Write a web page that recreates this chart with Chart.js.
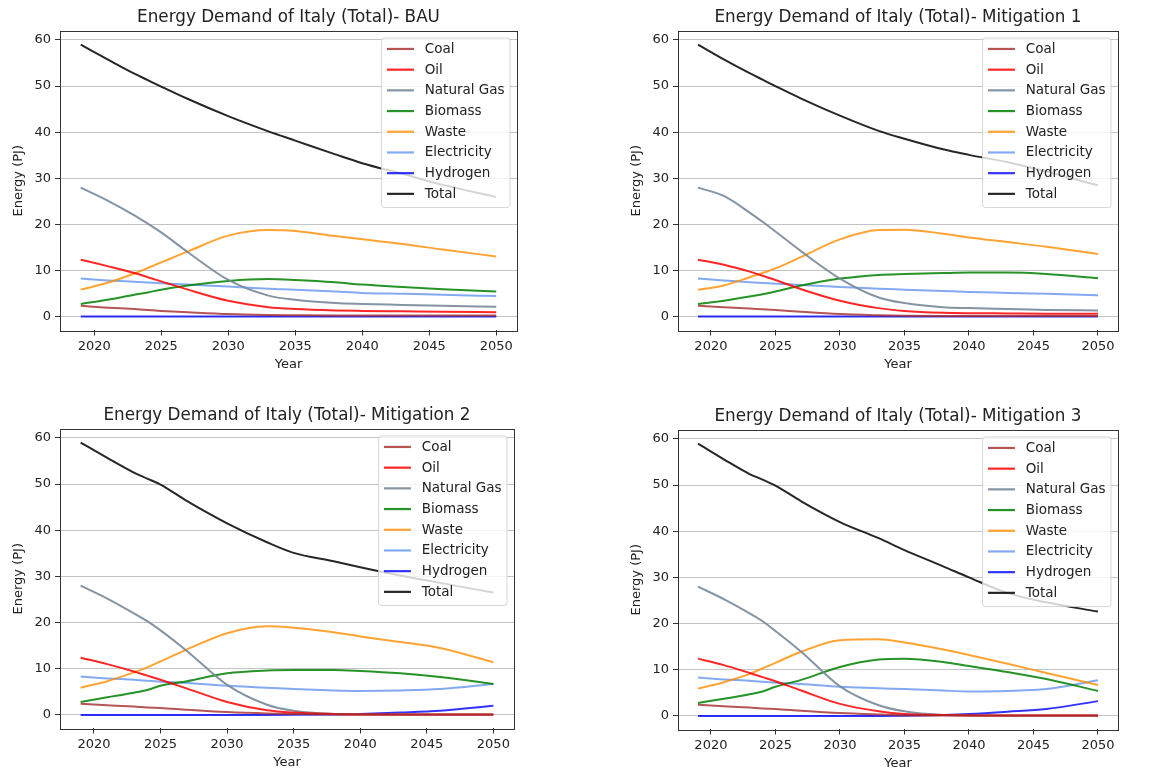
<!DOCTYPE html>
<html>
<head>
<meta charset="utf-8">
<script src="https://cdn.jsdelivr.net/npm/chart.js@4"></script>
<style>
  body { margin: 0; background: #fff; }
  #wrap { position: relative; width: 1150px; height: 774px; }
  canvas { position: absolute; }
</style>
</head>
<body>
<div id="wrap"></div>
<script>
// years the values were read at
const years = [2019, 2021, 2023, 2024, 2025, 2027, 2030, 2033, 2035, 2038, 2040, 2043, 2046, 2050];
const fuels = ["Coal", "Oil", "Natural Gas", "Biomass", "Waste", "Electricity", "Hydrogen", "Total"];
const scenarios = ["BAU", "Mitigation 1", "Mitigation 2", "Mitigation 3"];
const xTicks = [2020, 2025, 2030, 2035, 2040, 2045, 2050];
const yTicks = [0, 10, 20, 30, 40, 50, 60];

// BAU
const coalBAU   = [2.4, 2.0, 1.7, 1.5, 1.3, 1.0, 0.6, 0.4, 0.35, 0.3, 0.3, 0.3, 0.3, 0.3];
const oilBAU    = [12.4, 11.0, 9.5, 8.6, 7.7, 5.9, 3.5, 2.1, 1.7, 1.4, 1.3, 1.2, 1.1, 1.0];
const gasBAU    = [28, 25.2, 22.0, 20.2, 18.3, 14.0, 8.0, 4.6, 3.7, 3.0, 2.8, 2.6, 2.4, 2.2];
const bioBAU    = [2.8, 3.7, 4.8, 5.3, 5.9, 6.8, 7.8, 8.2, 8.0, 7.5, 7.0, 6.5, 6.0, 5.5];
const wasteBAU  = [5.9, 7.4, 9.4, 10.6, 11.8, 14.2, 17.6, 18.8, 18.6, 17.5, 16.8, 15.8, 14.6, 13.1];
const elecBAU   = [8.3, 7.9, 7.6, 7.45, 7.3, 7.0, 6.6, 6.1, 5.9, 5.5, 5.2, 5.0, 4.8, 4.5];
const h2BAU     = [0.1, 0.1, 0.1, 0.1, 0.1, 0.1, 0.1, 0.1, 0.1, 0.1, 0.1, 0.1, 0.1, 0.1];
const totalBAU  = [59, 55.8, 52.7, 51.3, 49.9, 47.2, 43.5, 40.2, 38.2, 35.2, 33.3, 31.0, 28.6, 26.0];

// Mitigation 1
const coalM1    = [2.4, 2.1, 1.8, 1.65, 1.5, 1.1, 0.6, 0.35, 0.25, 0.2, 0.2, 0.2, 0.2, 0.2];
const oilM1     = [12.4, 11.3, 9.8, 8.9, 8.0, 6.0, 3.5, 1.9, 1.3, 0.9, 0.8, 0.75, 0.7, 0.7];
const gasM1     = [28, 26.2, 22.6, 20.6, 18.5, 14.2, 8.3, 4.2, 3.0, 2.1, 1.9, 1.7, 1.5, 1.4];
const bioM1     = [2.8, 3.5, 4.4, 4.9, 5.5, 6.8, 8.3, 9.1, 9.3, 9.5, 9.6, 9.6, 9.3, 8.4];
const wasteM1   = [5.9, 6.8, 8.6, 9.5, 10.5, 13.0, 16.8, 18.8, 18.9, 18.0, 17.2, 16.2, 15.2, 13.6];
const elecM1    = [8.3, 7.9, 7.5, 7.35, 7.2, 6.9, 6.5, 6.1, 5.9, 5.6, 5.4, 5.2, 5.0, 4.7];
const h2M1      = [0.1, 0.1, 0.1, 0.1, 0.1, 0.1, 0.1, 0.1, 0.1, 0.1, 0.1, 0.1, 0.1, 0.1];
const totalM1   = [59, 55.8, 52.8, 51.4, 50.0, 47.3, 43.6, 40.3, 38.6, 36.3, 35.1, 33.5, 31.5, 28.5];

// Mitigation 2
const coalM2    = [2.4, 2.1, 1.8, 1.6, 1.5, 1.1, 0.6, 0.3, 0.2, 0.1, 0.1, 0.1, 0.1, 0.1];
const oilM2     = [12.4, 11.0, 9.4, 8.5, 7.6, 5.7, 2.8, 1.0, 0.5, 0.2, 0.1, 0.1, 0.1, 0.1];
const gasM2     = [28, 25.2, 22.0, 20.3, 18.3, 13.8, 6.5, 2.2, 0.9, 0.2, 0.1, 0.05, 0.05, 0.05];
const bioM2     = [2.8, 3.8, 4.8, 5.4, 6.3, 7.3, 9.0, 9.6, 9.7, 9.7, 9.5, 9.0, 8.2, 6.7];
const wasteM2   = [5.9, 7.3, 9.2, 10.3, 11.6, 14.2, 17.7, 19.2, 18.9, 17.9, 17.0, 15.8, 14.5, 11.4];
const elecM2    = [8.3, 7.9, 7.6, 7.4, 7.2, 6.9, 6.3, 5.9, 5.6, 5.3, 5.2, 5.3, 5.6, 6.7];
const h2M2      = [0, 0, 0, 0, 0, 0, 0, 0, 0.02, 0.1, 0.2, 0.5, 0.9, 2.0];
const totalM2   = [59, 55.7, 52.5, 51.2, 49.9, 46.3, 41.5, 37.4, 35.1, 33.3, 32.0, 30.2, 28.6, 26.5];

// Mitigation 3
const coalM3    = [2.4, 2.1, 1.8, 1.6, 1.5, 1.1, 0.6, 0.3, 0.15, 0.1, 0.1, 0.1, 0.1, 0.1];
const oilM3     = [12.4, 11.0, 9.3, 8.4, 7.5, 5.5, 2.6, 1.0, 0.4, 0.2, 0.1, 0.1, 0.1, 0.1];
const gasM3     = [28, 25.3, 22.2, 20.5, 18.4, 13.9, 6.4, 2.3, 1.0, 0.2, 0.1, 0.05, 0.05, 0.05];
const bioM3     = [2.8, 3.7, 4.7, 5.3, 6.3, 7.8, 10.6, 12.2, 12.4, 11.7, 10.8, 9.5, 8.0, 5.4];
const wasteM3   = [5.9, 7.3, 9.1, 10.3, 11.5, 13.9, 16.4, 16.6, 15.9, 14.4, 13.2, 11.3, 9.3, 6.7];
const elecM3    = [8.3, 7.9, 7.6, 7.4, 7.2, 6.9, 6.3, 6.0, 5.8, 5.5, 5.3, 5.4, 5.8, 7.7];
const h2M3      = [0, 0, 0, 0, 0, 0, 0, 0, 0.05, 0.2, 0.4, 0.9, 1.5, 3.2];
const totalM3   = [59, 55.6, 52.4, 51.2, 49.9, 46.5, 42.0, 38.5, 35.9, 32.4, 30.0, 26.6, 24.6, 22.6];

const series = [
  [coalBAU, oilBAU, gasBAU, bioBAU, wasteBAU, elecBAU, h2BAU, totalBAU],
  [coalM1, oilM1, gasM1, bioM1, wasteM1, elecM1, h2M1, totalM1],
  [coalM2, oilM2, gasM2, bioM2, wasteM2, elecM2, h2M2, totalM2],
  [coalM3, oilM3, gasM3, bioM3, wasteM3, elecM3, h2M3, totalM3]
];

const colors = [
  "rgba(165,42,42,0.8)",    // coal
  "rgba(255,0,0,0.85)",     // oil
  "rgba(119,136,153,0.9)",  // gas
  "rgba(0,128,0,0.85)",     // biomass
  "rgba(255,140,0,0.8)",    // waste
  "rgba(100,149,237,0.8)",  // electricity
  "rgba(0,0,255,0.8)",      // hydrogen
  "rgba(0,0,0,0.85)"        // total
];

// canvas placement of each panel
const panels = [
  { left: 0,   top: 0,   w: 529, h: 372 },
  { left: 618, top: 0,   w: 512, h: 372 },
  { left: 0,   top: 398, w: 526, h: 372 },
  { left: 618, top: 399, w: 512, h: 372 }
];

const FONT = "'DejaVu Sans', sans-serif";
const TXT = "#222";

// box round the axes + matplotlib-like legend
const frameLegend = {
  id: "frameLegend",
  afterDatasetsDraw(chart) {
    const ctx = chart.ctx;
    const a = chart.chartArea;
    ctx.save();
    ctx.strokeStyle = "#333";
    ctx.lineWidth = 1;
    ctx.strokeRect(Math.round(a.left) + 0.5, Math.round(a.top) + 0.5,
                   Math.round(a.right - a.left), Math.round(a.bottom - a.top));

    ctx.font = "13.5px " + FONT;
    const items = chart.data.datasets;
    const tw = Math.max(...items.map(d => ctx.measureText(d.label).width));
    const pad = 5.4, hl = 27, gap = 10.8, rowH = 20.7;
    const w = pad + hl + gap + tw + pad;
    const h = rowH * items.length + 4;
    const x = a.right - 7 - w, y = a.top + 7;

    ctx.beginPath();
    ctx.roundRect(x, y, w, h, 3);
    ctx.fillStyle = "rgba(255,255,255,0.8)";
    ctx.fill();
    ctx.strokeStyle = "rgba(204,204,204,0.8)";
    ctx.stroke();

    ctx.textBaseline = "middle";
    ctx.textAlign = "left";
    items.forEach((d, i) => {
      const cy = y + 11 + i * rowH;
      ctx.beginPath();
      ctx.moveTo(x + pad, cy);
      ctx.lineTo(x + pad + hl, cy);
      ctx.strokeStyle = d.borderColor;
      ctx.lineWidth = 2.2;
      ctx.stroke();
      ctx.fillStyle = TXT;
      ctx.fillText(d.label, x + pad + hl + gap, cy + 0.5);
    });
    ctx.restore();
  }
};

const wrap = document.getElementById("wrap");

scenarios.forEach((sc, p) => {
  const pos = panels[p];
  const cv = document.createElement("canvas");
  cv.width = pos.w;
  cv.height = pos.h;
  cv.style.left = pos.left + "px";
  cv.style.top = pos.top + "px";
  cv.style.width = pos.w + "px";
  cv.style.height = pos.h + "px";
  wrap.appendChild(cv);

  const datasets = fuels.map((f, i) => ({
    label: f,
    data: years.map((yr, k) => ({ x: yr, y: series[p][i][k] })),
    borderColor: colors[i],
    backgroundColor: colors[i],
    borderWidth: 2,
    pointRadius: 0,
    fill: false,
    cubicInterpolationMode: "monotone"
  }));

  new Chart(cv.getContext("2d"), {
    type: "line",
    data: { datasets },
    plugins: [frameLegend],
    options: {
      responsive: false,
      animation: false,
      layout: { padding: { left: 0, right: 12, top: 0, bottom: 0 } },
      plugins: {
        legend: { display: false },
        tooltip: { enabled: false },
        title: {
          display: true,
          text: "Energy Demand of Italy (Total)- " + sc,
          fullSize: false,
          color: TXT,
          font: { family: FONT, size: 16.8, weight: "normal", lineHeight: 1.2 },
          padding: { top: 7.5, bottom: 3.3 }
        }
      },
      scales: {
        x: {
          type: "linear",
          min: 2017.45,
          max: 2051.55,
          afterBuildTicks: s => { s.ticks = xTicks.map(v => ({ value: v })); },
          afterFit: s => { s.height = 41.5; },
          ticks: {
            color: TXT,
            font: { family: FONT, size: 13 },
            padding: 3,
            maxRotation: 0,
            callback: v => String(v)
          },
          grid: { drawOnChartArea: false, drawTicks: true, tickLength: 5, tickColor: "#333" },
          border: { display: false },
          title: {
            display: true,
            text: "Year",
            color: TXT,
            font: { family: FONT, size: 13, lineHeight: 1.2 },
            padding: { top: 0, bottom: 0 }
          }
        },
        y: {
          type: "linear",
          min: -2.95,
          max: 61.95,
          afterBuildTicks: s => { s.ticks = yTicks.map(v => ({ value: v })); },
          afterFit: s => { s.width = 60; },
          ticks: {
            color: TXT,
            font: { family: FONT, size: 13 },
            padding: 4,
            callback: v => String(v)
          },
          grid: { color: "#c4c4c4", lineWidth: 1, drawTicks: true, tickLength: 5, tickColor: "#333" },
          border: { display: false },
          title: {
            display: true,
            text: "Energy (PJ)",
            color: TXT,
            font: { family: FONT, size: 13, lineHeight: 1.2 },
            padding: { top: 11, bottom: 0 }
          }
        }
      }
    }
  });
});
</script>
</body>
</html>
